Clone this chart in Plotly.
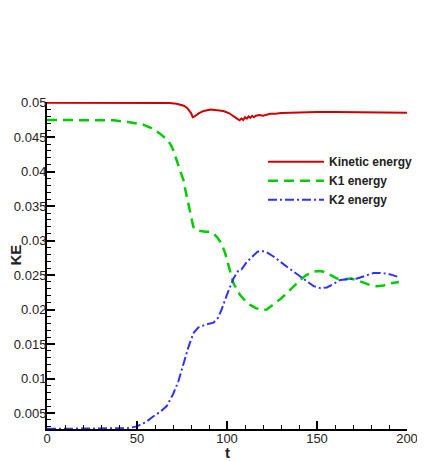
import plotly.graph_objects as go

# ---- data ----
t_ke = [0, 20, 40, 60, 68, 72, 74, 76, 78, 80, 81, 82, 84, 87, 91, 95, 98, 101, 103, 105,
        106, 107, 108, 109, 110, 111, 112, 113, 114, 115, 116, 118, 120, 122, 124, 127, 130,
        135, 140, 150, 160, 170, 180, 190, 200]
ke = [0.0500, 0.0500, 0.0500, 0.04998, 0.04995, 0.04985, 0.04975, 0.04955, 0.0492, 0.0485,
      0.0479, 0.0480, 0.0484, 0.0488, 0.0490, 0.0489, 0.0488, 0.0485, 0.0482, 0.0478,
      0.0476, 0.04745, 0.0477, 0.0475, 0.0479, 0.0477, 0.0480, 0.0478, 0.0481, 0.0479,
      0.0481, 0.0482, 0.0481, 0.0483, 0.0484, 0.0484, 0.0485, 0.04855, 0.0486, 0.04865,
      0.04865, 0.0486, 0.0486, 0.04855, 0.04855]

t_k1 = [0, 20, 37, 45, 53.5, 58, 62.8, 66, 68.4, 70, 72.1, 74, 75.8, 77, 78.6, 80, 81.3, 83,
        85, 88, 90.6, 92.5, 94.3, 97, 99, 101.8, 103.6, 105.5, 107.3, 110, 112.9, 116, 119.4,
        122, 125.8, 130, 133.3, 137, 140.7, 144, 148.1, 151, 153.7, 157, 161.1, 165, 168.5,
        172, 175.9, 180, 183.3, 187, 190.7, 195.5]
k1 = [0.0475, 0.0475, 0.04744, 0.0472, 0.04682, 0.0463, 0.04551, 0.0448, 0.04407, 0.0432,
      0.04165, 0.0403, 0.03876, 0.0372, 0.03539, 0.0335, 0.0320, 0.0315, 0.03138, 0.0313,
      0.03128, 0.0310, 0.03055, 0.0296, 0.02815, 0.02526, 0.02381, 0.0229, 0.0221, 0.0213,
      0.02067, 0.0202, 0.01995, 0.0200, 0.0207, 0.0216, 0.0224, 0.0234, 0.0243, 0.0250,
      0.0255, 0.0256, 0.0255, 0.0251, 0.0245, 0.0244, 0.0245, 0.0243, 0.0239, 0.0235,
      0.0234, 0.0235, 0.0238, 0.0240]

t_k2 = [0, 20, 40, 45, 50, 55, 59, 63, 66.5, 70, 73, 76, 78.6, 81.4, 84, 88, 92.5, 95, 97,
        99.9, 103.6, 106.4, 108, 111, 114.7, 117, 119.4, 122, 125.8, 129, 133.3, 137, 140.7,
        144, 148.1, 152, 155.5, 159, 162.9, 167, 172.2, 177, 181.4, 185, 188.9, 192, 195.5]
k2 = [0.0027, 0.0027, 0.0027, 0.0028, 0.00306, 0.0037, 0.0045, 0.0052, 0.0060, 0.0077,
      0.0096, 0.0125, 0.0146, 0.0166, 0.0174, 0.0178, 0.0181, 0.0188, 0.0200, 0.0221,
      0.0245, 0.0257, 0.0258, 0.0269, 0.0279, 0.0284, 0.0285, 0.0283, 0.0277, 0.0270,
      0.0262, 0.0255, 0.0248, 0.0241, 0.0234, 0.0231, 0.0232, 0.0237, 0.0243, 0.0244,
      0.0245, 0.0249, 0.0253, 0.0253, 0.0252, 0.0250, 0.0247]

names = ["Kinetic energy", "K1 energy", "K2 energy"]
y_tickvals = [0.005, 0.01, 0.015, 0.02, 0.025, 0.03, 0.035, 0.04, 0.045, 0.05]
y_ticktext = ["0.005", "0.01", "0.015", "0.02", "0.025", "0.03", "0.035", "0.04", "0.045", "0.05"]
x_tickvals = [0, 50, 100, 150, 200]

FONT = "Liberation Sans, Arial, sans-serif"

fig = go.Figure()
fig.add_trace(go.Scatter(x=t_ke, y=ke, mode="lines", name=names[0],
                         line=dict(color="#d00000", width=2)))
fig.add_trace(go.Scatter(x=t_k1, y=k1, mode="lines", name=names[1],
                         line=dict(color="#00cc00", width=2.5, dash="10px,6px")))
fig.add_trace(go.Scatter(x=t_k2, y=k2, mode="lines", name=names[2],
                         line=dict(color="#3030ff", width=2, dash="9px,3px,2px,3px")))

axis_common = dict(showline=True, linecolor="black", linewidth=2, showgrid=False,
                   zeroline=False, ticks="inside", tickcolor="black", tickwidth=1.5,
                   ticklen=8, mirror=False, automargin=False, ticklabelstandoff=-4,
                   tickfont=dict(family=FONT, size=13, color="#222"))

fig.update_xaxes(range=[0, 200], tickvals=x_tickvals,
                 minor=dict(dtick=10, tick0=0, ticks="inside", ticklen=4,
                            tickcolor="black", tickwidth=1.2),
                 **axis_common)
fig.update_yaxes(range=[0.00268, 0.0501], tickvals=y_tickvals, ticktext=y_ticktext,
                 minor=dict(dtick=0.001, tick0=0, ticks="inside", ticklen=4,
                            tickcolor="black", tickwidth=1.2),
                 **axis_common)

# the page body adds an 8px margin, so the figure is 8px smaller and shifted
fig.update_layout(
    width=417, height=453,
    margin=dict(l=39, r=18, t=94, b=32, autoexpand=False),
    plot_bgcolor="white", paper_bgcolor="white",
    font=dict(family=FONT, color="#222"),
    showlegend=True,
    legend=dict(x=0.6, y=0.862, xanchor="left", yanchor="top",
                bgcolor="rgba(0,0,0,0)", borderwidth=0, itemwidth=56,
                font=dict(family=FONT, size=12, color="#222", weight="bold"),
                tracegroupgap=0),
    annotations=[
        dict(text="<b>t</b>", x=0.5, y=-0.073, xref="paper", yref="paper",
             xanchor="center", yanchor="middle",
             showarrow=False, font=dict(family=FONT, size=15, color="#222")),
        dict(text="<b>KE</b>", x=-0.0875, y=0.532, xref="paper", yref="paper",
             xanchor="center", yanchor="middle",
             showarrow=False, textangle=-90, font=dict(family=FONT, size=15, color="#222")),
    ],
)

fig.write_html("out.html")
